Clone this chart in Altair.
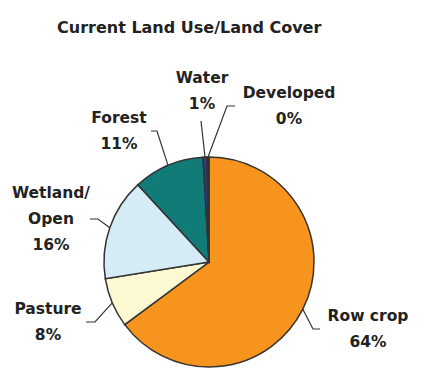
import math
import altair as alt
import pandas as pd

# ---- data ----
categories = ["Row crop", "Pasture", "Wetland/\nOpen", "Forest", "Water", "Developed"]
values = [64.5, 7.6, 15.6, 10.9, 0.6, 0.3]
pct_labels = ["64%", "8%", "16%", "11%", "1%", "0%"]
colors = ["#F7941D", "#FBF8D2", "#D5ECF7", "#117B78", "#2E3A8C", "#222222"]

# ---- layout (pixels) ----
W, H = 425, 381
CX, CY, R = 209, 262, 105
# label first-line centres
label_pos = [(368, 316), (48, 309), (51, 193), (119, 118), (202, 78), (289, 93)]
# leader elbow and end points
leader_elbow = [(313, 329), (95, 322), (98, 219), (157, 131), (201, 121), (227, 106)]
leader_end = [(320, 329), (86, 322), (90, 219), (151, 131), (201, 121), (235, 106)]

total = sum(values)
rows, lines = [], []
cum = 0.0
for i, (c, v) in enumerate(zip(categories, values)):
    mid = (cum + v / 2) / total * 2 * math.pi
    cum += v
    sx, sy = CX + R * math.sin(mid), CY - R * math.cos(mid)
    rows.append({"idx": i, "cat": c, "value": v,
                 "label": c + "\n" + pct_labels[i],
                 "lx": label_pos[i][0], "ly": label_pos[i][1]})
    for k, (px, py) in enumerate([(sx, sy), leader_elbow[i], leader_end[i]]):
        lines.append({"idx": i, "k": k, "x": px, "y": py})

df = pd.DataFrame(rows)
ldf = pd.DataFrame(lines)

xs = alt.Scale(domain=[0, W], range=[0, W])
ys = alt.Scale(domain=[0, H], range=[0, H])

pie = alt.Chart(df).mark_arc(radius=R, stroke="#333333", strokeWidth=1.5).encode(
    theta=alt.Theta("value:Q", stack=True),
    order=alt.Order("idx:Q"),
    color=alt.Color("cat:N", scale=alt.Scale(domain=categories, range=colors), legend=None),
    x=alt.value(CX), y=alt.value(CY),
)

leaders = alt.Chart(ldf).mark_line(color="#333333", strokeWidth=1.2).encode(
    x=alt.X("x:Q", scale=xs, axis=None),
    y=alt.Y("y:Q", scale=ys, axis=None),
    detail="idx:N",
    order="k:Q",
)

labels = alt.Chart(df).mark_text(
    font="DejaVu Sans", fontWeight="bold", fontSize=15.5, color="#222222",
    lineBreak="\n", lineHeight=26, align="center", baseline="middle",
).encode(
    x=alt.X("lx:Q", scale=xs, axis=None),
    y=alt.Y("ly:Q", scale=ys, axis=None),
    text="label:N",
)

chart = alt.layer(leaders, pie, labels).properties(
    width=W, height=H,
    title=alt.TitleParams("Current Land Use/Land Cover", font="DejaVu Sans", fontSize=16,
                          fontWeight="bold", color="#222222", anchor="start",
                          dx=57, dy=0, offset=-36, orient="top"),
    autosize=alt.AutoSizeParams(type="none"),
    padding=0,
).configure_view(stroke=None)

chart.save("out.html", embed_options={"renderer": "svg", "actions": False})
